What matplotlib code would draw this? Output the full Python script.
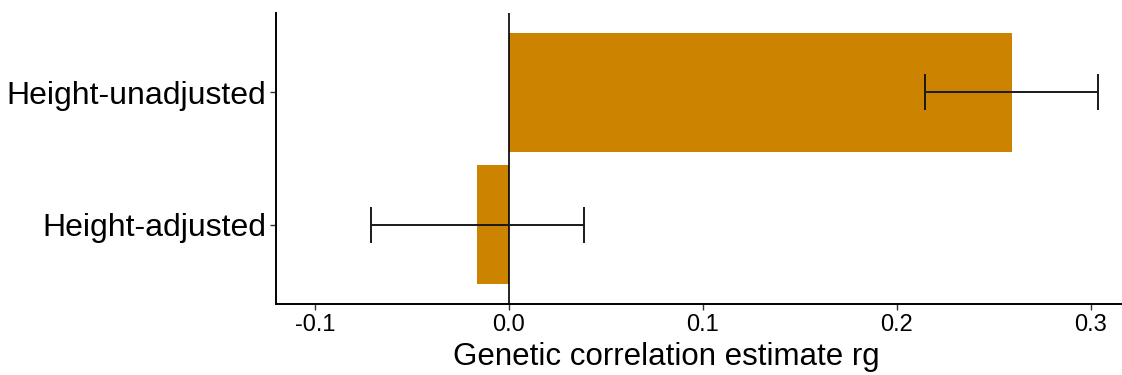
import numpy as np
import matplotlib
matplotlib.use("Agg")
import matplotlib.pyplot as plt

plt.rcParams['font.family'] = ['Liberation Sans', 'DejaVu Sans']

# data
labels = ["Height-adjusted", "Height-unadjusted"]
rg = [-0.0165, 0.2593]
ci_low = [-0.0708, 0.2144]
ci_high = [0.0387, 0.3036]
xticks = [-0.1, 0.0, 0.1, 0.2, 0.3]

fig = plt.figure(figsize=(11.22, 3.75), dpi=100)
ax = fig.add_axes([276/1122, 1 - 304/375, 1 - 276/1122, (304 - 12.7)/375])

ypos = np.arange(1, len(labels) + 1)
ax.barh(ypos, rg, height=0.9, color="#CC8400", zorder=1)
ax.axvline(0, color="black", lw=1.2, zorder=2)

err_lo = np.array(rg) - np.array(ci_low)
err_hi = np.array(ci_high) - np.array(rg)
ax.errorbar(rg, ypos, xerr=[err_lo, err_hi], fmt="none", ecolor="#1a1a1a",
            elinewidth=1.4, capsize=13, capthick=1.4, zorder=3)

ax.set_xlim(-0.12, 0.316)
ax.set_ylim(0.4, 2.6)
ax.set_yticks(ypos)
ax.set_yticklabels(labels, fontsize=23)
ax.set_xticks(xticks)
ax.set_xticklabels([f"{t:.1f}" for t in xticks], fontsize=17)

for s in ["top", "right"]:
    ax.spines[s].set_visible(False)
for s in ["left", "bottom"]:
    ax.spines[s].set_linewidth(1.4)
ax.tick_params(axis="both", length=4, width=1, color="#333333", pad=3)

fig.text(666/1122, 1 - 365/375, "Genetic correlation estimate rg", fontsize=22.5,
         ha="center", va="baseline")

fig.savefig("out.png", dpi=100)
